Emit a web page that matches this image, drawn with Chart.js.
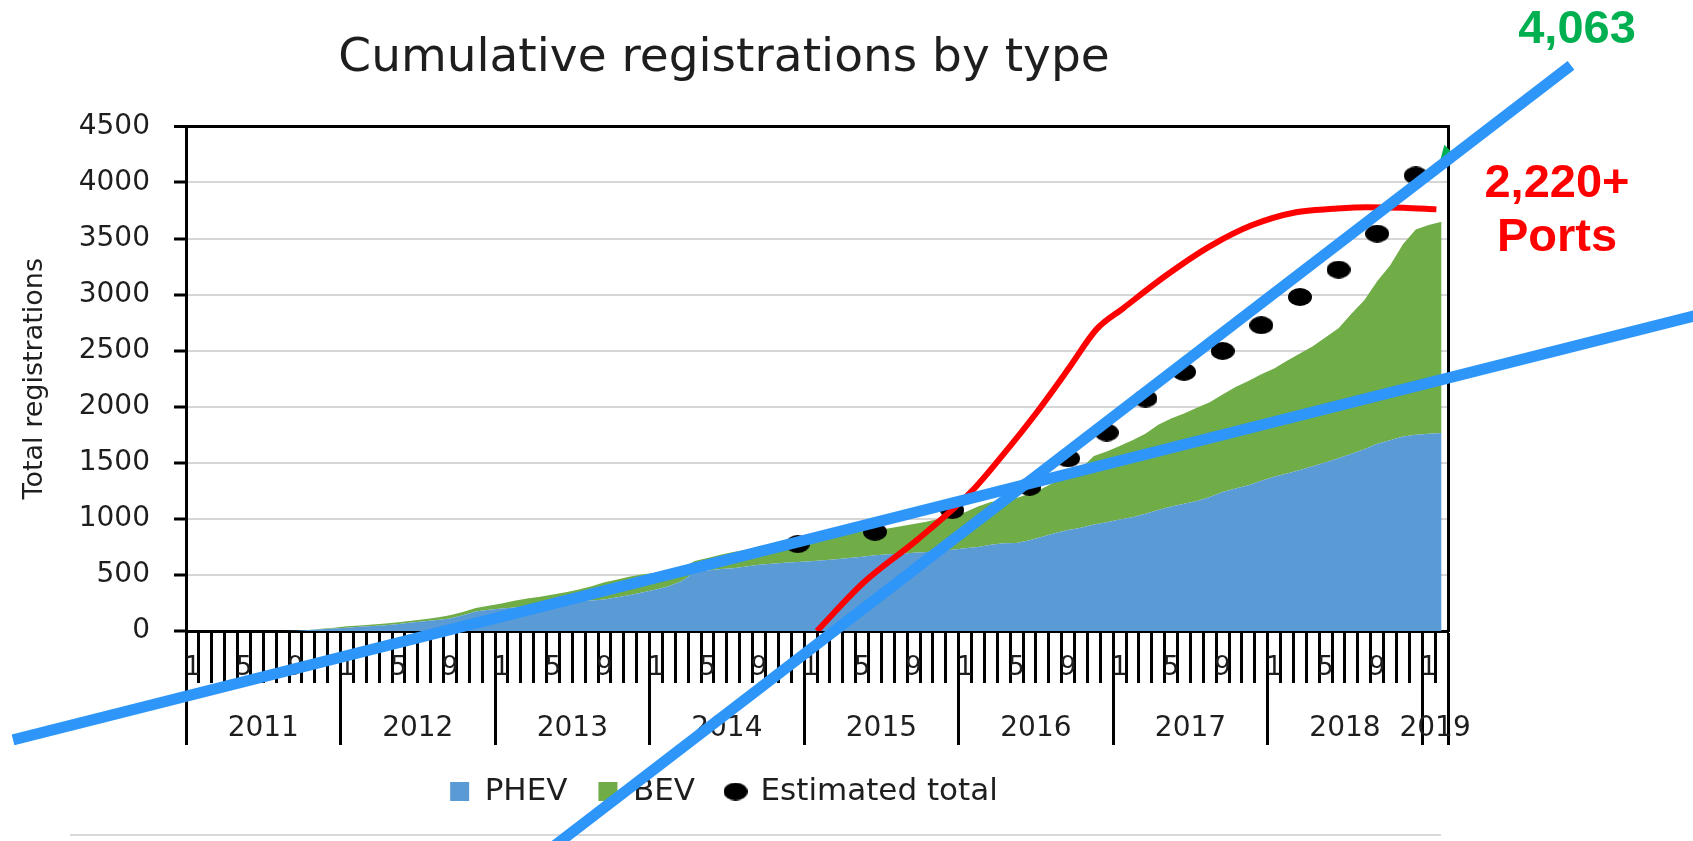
<!DOCTYPE html>
<html>
<head>
<meta charset="utf-8">
<script src="https://cdn.jsdelivr.net/npm/chart.js@4.4.1/dist/chart.umd.min.js"></script>
<style>
  html, body { margin: 0; padding: 0; background: #fff; }
  #wrap { position: relative; width: 1693px; height: 841px; overflow: hidden; }
  #frameLine { position: absolute; left: 70px; top: 834px; width: 1371px; height: 2px; background: #d9d9d9; }
  #regChart { position: absolute; left: 0; top: 0; }
  .note { position: absolute; width: 200px; font-family: 'Liberation Sans', Arial, sans-serif; font-weight: bold;
          font-size: 47px; line-height: 54px; text-align: center; }
  #totalNote { left: 1477px; top: 0; color: #00b050; }
  #portsNote { left: 1457px; top: 154px; color: #ff0000; }
</style>
</head>
<body>
<div id="wrap">
  <div id="frameLine"></div>
  <canvas id="regChart" width="1693" height="841"></canvas>
  <div class="note" id="totalNote">4,063</div>
  <div class="note" id="portsNote">2,220+<br>Ports</div>
</div>
<script>
        // categories: one slot per month, Jan 2011 .. Feb 2019
        const years = ['2011', '2012', '2013', '2014', '2015', '2016', '2017', '2018', '2019'];
        const monthTickLabels = ['1', '', '', '', '5', '', '', '', '9', '', '', ''];

        // cumulative registrations, one value per month
        const phev = [0, 0, 0, 0, 0, 0, 0, 0, 2, 8, 15, 22,
            30, 38, 45, 52, 62, 76, 88, 98, 112, 140, 175, 190,
            200, 210, 218, 232, 245, 255, 265, 272, 280, 300, 320, 345,
            370, 400, 445, 525, 540, 552, 560, 575, 590, 600, 608, 615,
            622, 630, 640, 650, 662, 675, 685, 690, 697, 705, 715, 725,
            737, 750, 770, 782, 785, 810, 840, 875, 900, 920, 950, 970,
            995, 1015, 1045, 1080, 1110, 1135, 1160, 1195, 1240, 1270, 1300, 1340,
            1375, 1405, 1435, 1470, 1505, 1540, 1580, 1620, 1670, 1700, 1735, 1750,
            1760, 1765];
        const bev = [0, 0, 0, 0, 0, 0, 0, 0, 1, 2, 5, 8,
            12, 12, 13, 14, 16, 16, 17, 22, 28, 30, 30, 35,
            45, 60, 72, 73, 80, 90, 105, 128, 155, 160, 165, 160,
            150, 135, 115, 100, 110, 128, 145, 150, 165, 180, 182, 190,
            208, 225, 230, 230, 228, 225, 230, 245, 258, 270, 285, 305,
            323, 360, 380, 388, 400, 415, 430, 455, 490, 530, 610, 630,
            655, 685, 715, 760, 785, 805, 830, 845, 870, 905, 930, 950,
            965, 1005, 1040, 1070, 1115, 1160, 1250, 1330, 1450, 1560, 1715, 1830,
            1860, 1885];

        // estimated total (black dots), month index -> value
        const estMonths = [47, 53, 59, 65, 68, 71, 74, 77, 80, 83, 86, 89, 92, 95];
        const estValues = [775, 885, 1078, 1286, 1539, 1770, 2073, 2311, 2498, 2727, 2979, 3223, 3544, 4063];

        // charging ports curve (red)
        const portMonths = [48.5, 52.1, 56.3, 60.5, 63.0, 65.5, 68.1, 70.2, 72.3, 75.6, 79.0, 82.3, 85.7, 88.6, 91.2, 94.0, 96.6];
        const portValues = [0, 430, 815, 1245, 1580, 1940, 2350, 2690, 2880, 3170, 3430, 3620, 3735, 3765, 3780, 3775, 3760];

        // hand drawn trend lines (blue) and arrow tip (green)
        const trendAMonths = [-13.93, 120.95];
        const trendAValues = [-971, 2935];
        const trendBMonths = [25.68, 107.05];
        const trendBValues = [-2130, 5044];
        const arrowMonths = [97.4];
        const arrowValues = [4259];

        const yMax = 4500;
        const font = "'DejaVu Sans', sans-serif";
        const textColor = '#1e1e1e';

        const lastMonth = phev.length - 1;
        const monthEdges = phev.map((v, i) => i - 0.5).concat([lastMonth + 0.5]);
        const yearTicks = [];
        years.forEach((yr, k) => {
            const start = k * 12 - 0.5;
            const end = Math.min(start + 12, lastMonth + 0.5);
            yearTicks.push({ value: start, label: '', edge: true });
            yearTicks.push({ value: (start + end) / 2, label: yr, edge: false });
        });
        yearTicks.push({ value: lastMonth + 0.5, label: '', edge: true });

        const seq = arr => arr.map((y, i) => ({ x: i, y }));
        const xy = (xs, ys) => xs.map((x, i) => ({ x, y: ys[i] }));

        // slightly flattened dot like the original
        const dotImg = document.createElement('canvas');
        dotImg.width = 24; dotImg.height = 18;
        (function () {
            const c = dotImg.getContext('2d');
            c.fillStyle = '#000';
            c.beginPath();
            c.ellipse(12, 9, 12, 9, 0, 0, Math.PI * 2);
            c.fill();
        })();

        const ctx = document.getElementById('regChart').getContext('2d');
        new Chart(ctx, {
            type: 'line',
            data: {
                datasets: [
                    // stack order follows "order": PHEV (4) sits at the bottom, BEV (5) on top of it
                    { label: 'PHEV', data: seq(phev), backgroundColor: '#5b9bd5', borderColor: '#5b9bd5', borderWidth: 0, pointRadius: 0, pointStyle: 'rect', fill: 'origin', stack: 'reg', order: 4, tension: 0 },
                    { label: 'BEV', data: seq(bev), backgroundColor: '#70ad47', borderColor: '#70ad47', borderWidth: 0, pointRadius: 0, pointStyle: 'rect', fill: '-1', stack: 'reg', order: 5, tension: 0 },
                    { label: 'Estimated total', data: xy(estMonths, estValues), showLine: false, pointStyle: dotImg, pointRadius: 10, backgroundColor: '#000', borderColor: '#000', stack: 'est', order: 3 },
                    { label: 'Ports', data: xy(portMonths, portValues), borderColor: '#ff0000', borderWidth: 6, pointRadius: 0, cubicInterpolationMode: 'monotone', fill: false, stack: 'ports', order: 2 },
                    { label: 'Arrow', data: xy(arrowMonths, arrowValues), showLine: false, pointStyle: 'triangle', pointRadius: 9, rotation: 225, backgroundColor: '#00b050', borderWidth: 0, clip: false, stack: 'arrow', order: 1 },
                    { label: 'Trend A', data: xy(trendAMonths, trendAValues), borderColor: '#2e96f8', borderWidth: 11, pointRadius: 0, fill: false, clip: false, stack: 'trendA', order: 0 },
                    { label: 'Trend B', data: xy(trendBMonths, trendBValues), borderColor: '#2e96f8', borderWidth: 11, pointRadius: 0, fill: false, clip: false, stack: 'trendB', order: 0 }
                ]
            },
            options: {
                responsive: false,
                animation: false,
                layout: { padding: { top: 0, right: 245, bottom: 24, left: 0 } },
                plugins: {
                    title: { display: true, text: 'Cumulative registrations by type', color: textColor, font: { family: font, size: 47, weight: 'normal' }, padding: { top: 31, bottom: 39 } },
                    legend: {
                        display: true, position: 'bottom',
                        labels: {
                            usePointStyle: true, boxWidth: 19, boxHeight: 19, padding: 31, color: textColor,
                            font: { family: font, size: 31 },
                            filter: item => item.datasetIndex <= 2,
                            sort: (a, b) => a.datasetIndex - b.datasetIndex
                        }
                    },
                    tooltip: { enabled: false }
                },
                scales: {
                    x: {
                        type: 'linear', position: 'bottom', min: -0.5, max: lastMonth + 0.5, weight: 0,
                        afterBuildTicks: s => { s.ticks = monthEdges.map(v => ({ value: v })); },
                        afterFit: s => { s.height = 52; },
                        ticks: { autoSkip: false, maxRotation: 0, labelOffset: 6.4, padding: -30, color: textColor, font: { family: font, size: 26 }, callback: (v, i) => monthTickLabels[i % 12] },
                        grid: { drawOnChartArea: false, tickLength: 52, tickWidth: 3, tickColor: '#000', color: '#000' },
                        border: { color: '#000', width: 3 }
                    },
                    xYear: {
                        type: 'linear', position: 'bottom', min: -0.5, max: lastMonth + 0.5, weight: 1,
                        afterBuildTicks: s => { s.ticks = yearTicks.map(t => ({ value: t.value })); },
                        afterFit: s => { s.height = 62; },
                        ticks: { autoSkip: false, maxRotation: 0, padding: -33, color: textColor, font: { family: font, size: 28 }, callback: (v, i) => yearTicks[i].label },
                        grid: { drawOnChartArea: false, tickLength: 62, tickWidth: 3, tickColor: c => (yearTicks[c.index] && yearTicks[c.index].edge ? '#000' : 'rgba(0,0,0,0)') },
                        border: { display: false }
                    },
                    y: {
                        type: 'linear', position: 'left', stacked: true, min: 0, max: yMax,
                        afterFit: s => { s.width = 186; },
                        ticks: { stepSize: 500, padding: 24, color: textColor, font: { family: font, size: 28 }, callback: v => String(v) },
                        grid: {
                            color: c => (c.tick && c.tick.value === yMax ? '#000' : '#d6d6d6'),
                            lineWidth: c => (c.tick && c.tick.value === yMax ? 3 : 2),
                            tickColor: '#000', tickWidth: 3, tickLength: 12
                        },
                        border: { color: '#000', width: 3 },
                        title: { display: true, text: 'Total registrations', color: textColor, font: { family: font, size: 27 }, padding: { top: 19, bottom: 0 } }
                    },
                    yR: {
                        type: 'linear', position: 'right', min: 0, max: yMax,
                        afterFit: s => { s.width = 0; },
                        ticks: { display: false },
                        grid: { display: false },
                        border: { display: true, color: '#000', width: 3 }
                    }
                }
            }
        });
</script>
</body>
</html>
